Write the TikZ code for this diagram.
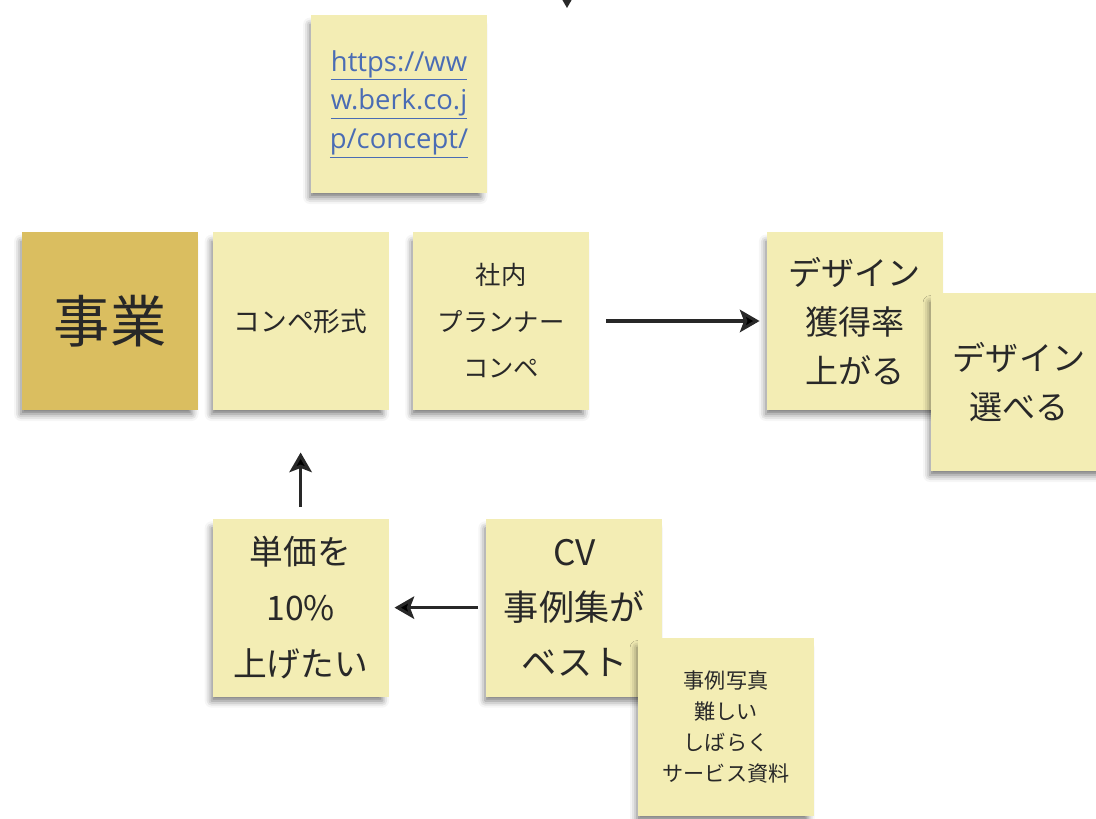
\documentclass[tikz,border=0pt]{standalone}
\usepackage{fontspec}
\setmainfont{Noto Sans CJK JP}
\newfontfamily\urlfont{Open Sans}
\usepackage{xcolor}
\definecolor{mypale}{RGB}{243,237,180}
\definecolor{mygold}{RGB}{218,190,96}
\definecolor{myblue}{RGB}{74,108,180}
\definecolor{myink}{RGB}{40,40,40}
\usepackage{tikz}
\usetikzlibrary{positioning,arrows.meta,shadows.blur}

\begin{document}
\begin{tikzpicture}[x=0.025cm, y=-0.025cm, text=myink,
		note/.style = {fill=mypale, minimum width=4.4cm, minimum height=4.45cm, inner sep=0pt, align=center,
			blur shadow={shadow xshift=-0.5ex, shadow yshift=-5pt, shadow opacity=55, shadow blur radius=5pt, shadow scale=0.97}},
		arr/.style = {draw=myink, line width=2.2pt, -{Stealth[length=14pt, width=16pt, inset=3pt]}}]
		\useasboundingbox (0,0) rectangle (1096,818);
		\clip (0,0) rectangle (1096,818);
		\coordinate (topin) at (567,-60);
		\coordinate (topend) at (567,8);
		\draw[arr] (topin) -- (topend);
		\node[note] (jigyo) at (110,321) [fill=mygold, font=\fontsize{40}{44}\selectfont] {事業};
		\node[note] (konpe) [right=0.35cm of jigyo, font=\fontsize{19}{24}\selectfont] {コンペ形式};
		\node[note] (shanai) [right=0.6cm of konpe, font=\fontsize{18}{33}\selectfont] {社内\\プランナー\\コンペ};
		\node[note] (kakutoku) [right=4.425cm of shanai, font=\fontsize{23.5}{35}\selectfont] {デザイン\\獲得率\\上がる};
		\node[note] (eraberu) at (1019,382) [font=\fontsize{23.5}{35}\selectfont] {デザイン\\選べる};
		\node[note] (url) at (399,104) [text=myblue, font=\urlfont\fontsize{19.5}{27.5}\selectfont]
			{\underline{https://ww}\\\underline{w.berk.co.j}\\\underline{p/concept/}};
		\node[note] (tanka) [below=2.7cm of konpe, font=\fontsize{24}{40}\selectfont] {単価を\\10\%\\上げたい};
		\node[note] (cv) [right=2.425cm of tanka, font=\fontsize{25}{39}\selectfont] {CV\\事例集が\\ベスト};
		\node[note] (jirei) at (726,727) [font=\fontsize{15}{22}\selectfont] {事例写真\\難しい\\しばらく\\サービス資料};
		\path[arr] (shanai) edge [shorten <=12pt, shorten >=5pt] (kakutoku)
			(tanka) edge [shorten <=8pt, shorten >=30pt] (konpe)
			(cv) edge [shorten <=6pt, shorten >=4pt] (tanka);
	\end{tikzpicture}
\end{document}
